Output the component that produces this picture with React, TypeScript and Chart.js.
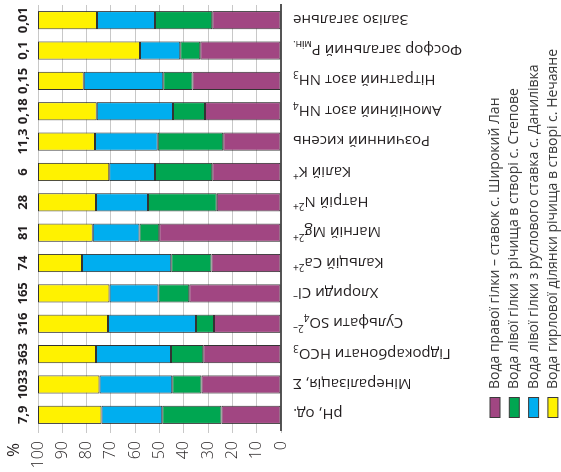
import React, { useEffect, useRef } from "react";
import { Chart, registerables } from "chart.js";

Chart.register(...registerables);

// Categories in original (un-rotated) order, left to right
const categoryLabels = [
  "рН, од.",
  "Мінералізація, Σ",
  "Гідрокарбонати HCO_{3}",
  "Сульфати SO_{4}^{2–}",
  "Хлориди Cl^{–}",
  "Кальцій Ca^{2+}",
  "Магній Mg^{2+}",
  "Натрій N^{2+}",
  "Калій K^{+}",
  "Розчинний кисень",
  "Амонійний азот NH_{4}",
  "Нітратний азот NH_{3}",
  "Фосфор загальний P_{мін.}",
  "Залізо загальне",
];

const valueLabels = ["7,9", "1033", "363", "316", "165", "74", "81", "28", "6", "11,3", "0,18", "0,15", "0,1", "0,01"];

const seriesNames = [
  "Вода правої гілки – ставок с. Широкий Лан",
  "Вода лівої гілки з річища в створі с. Степове",
  "Вода лівої гілки з руслового ставка с. Данилівка",
  "Вода гирлової ділянки річища в створі с. Нечаяне",
];

const seriesColors = ["#a14682", "#00a651", "#00aeef", "#fff200"];

const shirokyiLan = [24.5, 32.7, 32.0, 27.6, 37.8, 28.6, 50.1, 26.4, 28.3, 23.8, 31.3, 36.4, 33.2, 28.3];
const stepove = [24.4, 12.1, 13.3, 7.4, 12.6, 16.6, 8.1, 28.3, 23.6, 26.9, 13.1, 12.1, 8.3, 23.6];
const danylivka = [25.0, 29.9, 30.8, 36.2, 20.2, 36.7, 19.3, 21.4, 18.8, 25.8, 31.4, 32.7, 16.5, 23.8];
const nechaiane = [26.1, 25.3, 23.9, 28.8, 29.4, 18.1, 22.5, 23.9, 29.3, 23.5, 24.2, 18.8, 42.0, 24.3];

const seriesValues = [shirokyiLan, stepove, danylivka, nechaiane];

const yTicks = [0, 10, 20, 30, 40, 50, 60, 70, 80, 90, 100];

const FONT = "'Open Sans', 'Noto Sans', sans-serif";

type Seg = { t: string; s: number };

function parseRich(str: string): Seg[] {
  const parts = str.split(/(_\{[^}]*\}|\^\{[^}]*\})/).filter((p) => p.length > 0);
  return parts.map((p) => {
    if (p.startsWith("_{")) return { t: p.slice(2, -1), s: -1 };
    if (p.startsWith("^{")) return { t: p.slice(2, -1), s: 1 };
    return { t: p, s: 0 };
  });
}

function drawRichRightAligned(ctx: CanvasRenderingContext2D, segs: Seg[], size: number) {
  const small = Math.round(size * 0.68);
  const widths = segs.map((sg) => {
    ctx.font = `${sg.s === 0 ? size : small}px ${FONT}`;
    return ctx.measureText(sg.t).width;
  });
  const total = widths.reduce((a, b) => a + b, 0);
  let x = -total;
  const base = size * 0.36;
  ctx.textAlign = "left";
  ctx.textBaseline = "alphabetic";
  segs.forEach((sg, i) => {
    ctx.font = `${sg.s === 0 ? size : small}px ${FONT}`;
    let y = base;
    if (sg.s === -1) y = base + size * 0.28;
    if (sg.s === 1) y = base - size * 0.42;
    ctx.fillText(sg.t, x, y);
    x += widths[i];
  });
}

const overlayPlugin = {
  id: "overlayLabels",
  afterDraw(chart: any) {
    const ctx: CanvasRenderingContext2D = chart.ctx;
    const xs = chart.scales.x;
    const ys = chart.scales.y;
    const area = chart.chartArea;
    ctx.save();
    // percent sign
    ctx.fillStyle = "#231f20";
    ctx.font = `17px ${FONT}`;
    ctx.textAlign = "center";
    ctx.textBaseline = "middle";
    ctx.fillText("%", 22, ys.getPixelForValue(100) - 24);
    // value labels above columns
    ctx.font = `bold 13px ${FONT}`;
    valueLabels.forEach((v, i) => {
      ctx.fillText(v, xs.getPixelForValue(i), ys.getPixelForValue(100) - 15);
    });
    // category labels (rotated)
    ctx.fillStyle = "#231f20";
    categoryLabels.forEach((lab, i) => {
      ctx.save();
      ctx.translate(xs.getPixelForValue(i), area.bottom + 12);
      ctx.rotate(-Math.PI / 2);
      drawRichRightAligned(ctx, parseRich(lab), 15);
      ctx.restore();
    });
    // legend
    const legendTop = area.bottom + 214;
    const rowH = 19.3;
    seriesNames.forEach((name, i) => {
      const cy = legendTop + i * rowH;
      ctx.fillStyle = seriesColors[i];
      ctx.fillRect(54.5, cy - 5, 20, 10);
      ctx.strokeStyle = "#3a3a3a";
      ctx.lineWidth = 1;
      ctx.strokeRect(54.5, cy - 5, 20, 10);
      ctx.fillStyle = "#3a3a3a";
      ctx.font = `14px ${FONT}`;
      ctx.textAlign = "left";
      ctx.textBaseline = "middle";
      ctx.fillText(name, 83, cy);
    });
    ctx.restore();
  },
};

export default function App() {
  const canvasRef = useRef<HTMLCanvasElement | null>(null);

  useEffect(() => {
    const canvas = canvasRef.current;
    if (!canvas) return;
    const chart = new Chart(canvas, {
      type: "bar",
      data: {
        labels: categoryLabels.map((_, i) => String(i)),
        datasets: seriesNames.map((name, i) => ({
          label: name,
          data: seriesValues[i],
          backgroundColor: seriesColors[i],
          borderColor: "#333333",
          borderWidth: 1,
          borderSkipped: false,
          barPercentage: 0.6,
          categoryPercentage: 1,
        })),
      },
      options: {
        responsive: false,
        animation: false,
        devicePixelRatio: 1,
        layout: { padding: { left: 0, right: 5, top: 38, bottom: 0 } },
        plugins: { legend: { display: false }, tooltip: { enabled: false }, title: { display: false } },
        scales: {
          x: {
            stacked: true,
            offset: true,
            grid: { display: false },
            border: { display: true, color: "#555555", width: 2 },
            ticks: { display: false },
            afterFit: (s: any) => {
              s.height = 280;
            },
          },
          y: {
            stacked: true,
            min: 0,
            max: 100,
            afterBuildTicks: (s: any) => {
              s.ticks = yTicks.map((v) => ({ value: v }));
            },
            grid: { color: "#c8c8c8", lineWidth: 1, drawTicks: true, tickLength: 3 },
            border: { display: false },
            ticks: {
              color: "#231f20",
              font: { family: FONT, size: 16, weight: "300" as any },
              padding: 8,
            },
            afterFit: (s: any) => {
              s.width = 42;
            },
          },
        },
      },
      plugins: [overlayPlugin],
    });
    return () => chart.destroy();
  }, []);

  return (
    <div style={{ position: "fixed", left: 0, top: 0, width: 561, height: 472, overflow: "hidden", background: "#fff" }}>
      <div
        style={{
          position: "absolute",
          left: 0,
          top: 0,
          width: 472,
          height: 561,
          transformOrigin: "0 0",
          transform: "translate(0px, 472px) rotate(-90deg)",
        }}
      >
        <canvas ref={canvasRef} width={472} height={561} style={{ display: "block", width: 472, height: 561 }} />
      </div>
    </div>
  );
}
